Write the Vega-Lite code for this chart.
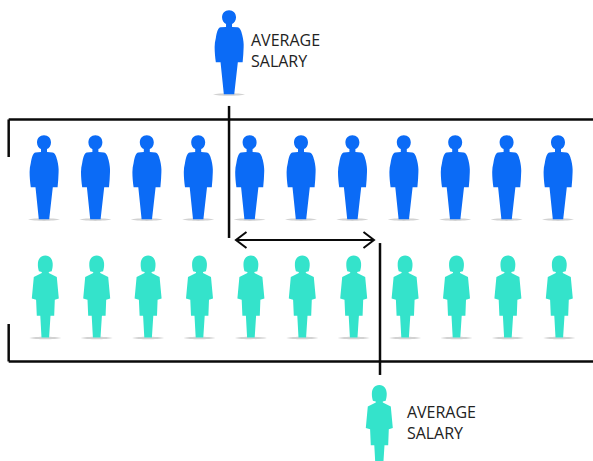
{"$schema":"https://vega.github.io/schema/vega-lite/v6.json","width":593,"height":461,"padding":0,"autosize":"none","background":"white","view":{"stroke":null},
"datasets":{
"people":[
{"gender":"man","seat":1,"level":1},{"gender":"man","seat":2,"level":1},{"gender":"man","seat":3,"level":1},{"gender":"man","seat":4,"level":1},{"gender":"man","seat":5,"level":1},{"gender":"man","seat":6,"level":1},{"gender":"man","seat":7,"level":1},{"gender":"man","seat":8,"level":1},{"gender":"man","seat":9,"level":1},{"gender":"man","seat":10,"level":1},{"gender":"man","seat":11,"level":1},
{"gender":"woman","seat":1,"level":2},{"gender":"woman","seat":2,"level":2},{"gender":"woman","seat":3,"level":2},{"gender":"woman","seat":4,"level":2},{"gender":"woman","seat":5,"level":2},{"gender":"woman","seat":6,"level":2},{"gender":"woman","seat":7,"level":2},{"gender":"woman","seat":8,"level":2},{"gender":"woman","seat":9,"level":2},{"gender":"woman","seat":10,"level":2},{"gender":"woman","seat":11,"level":2},
{"gender":"man","seat":4.6,"level":-0.055},{"gender":"woman","seat":7.498,"level":3.093}],
"lines":[
{"seat":0.313,"seat2":11.681,"level":0.506,"level2":0.506},
{"seat":0.313,"seat2":0.313,"level":0.506,"level2":0.823},
{"seat":0.313,"seat2":11.681,"level":2.548,"level2":2.548},
{"seat":0.313,"seat2":0.313,"level":2.232,"level2":2.548},
{"seat":4.6,"seat2":4.6,"level":0.392,"level2":1.506},
{"seat":7.537,"seat2":7.537,"level":1.549,"level2":2.662}],
"arrow":[{"seat":4.735,"seat2":7.42,"level":1.523,"level2":1.523}],
"labels":[
{"text":"AVERAGE","seat":5.027,"level":-0.157},{"text":"SALARY","seat":5.027,"level":0.021},
{"text":"AVERAGE","seat":8.06,"level":2.983},{"text":"SALARY","seat":8.06,"level":3.16}]},
"encoding":{
"x":{"field":"seat","type":"quantitative","scale":{"domain":[0.144,11.681],"range":[0,593],"nice":false,"zero":false},"axis":null},
"y":{"field":"level","type":"quantitative","scale":{"domain":[-0.502,3.388],"range":[0,461],"nice":false,"zero":false},"axis":null}},
"layer":[
{"data":{"name":"people"},"transform":[{"filter":"datum.gender==='man'"}],"mark":{"type":"point","shape":"M-16,41.6C-10,39.9 10,39.9 16,41.6C10,43.3 -10,43.3 -16,41.6Z","size":4,"filled":true,"opacity":1,"fill":"#d2d2d2","strokeWidth":0}},
{"data":{"name":"people"},"transform":[{"filter":"datum.gender==='woman'"}],"mark":{"type":"point","shape":"M-16,41.4C-10,39.7 10,39.7 16,41.4C10,43.1 -10,43.1 -16,41.4Z","size":4,"filled":true,"opacity":1,"fill":"#d2d2d2","strokeWidth":0,"xOffset":1.3}},
{"data":{"name":"people"},"transform":[{"filter":"datum.gender==='man'"}],"mark":{"type":"point","shape":"M0,-42.8C4.2,-42.8 7,-39.8 7,-35.6C7,-32.2 5.2,-30 3,-29L3,-26L8.5,-25.6C11,-25.3 12.3,-22 13.2,-18C14.4,-13 14.8,-9 14.6,-6C14.5,-1 14.1,4 13.6,9.3L8.8,9.3L5.2,41.3L-5.2,41.3L-8.5,9.3L-13.2,9.3C-13.9,4 -14.4,-1 -14.4,-6C-14.4,-9 -14,-12 -13.2,-15C-12.2,-21 -11,-25.3 -8.5,-25.6L-3,-26L-3,-29C-5.2,-30 -7,-32.2 -7,-35.6C-7,-39.8 -4.2,-42.8 0,-42.8Z","size":4,"filled":true,"opacity":1,"fill":"#0b6bf6","strokeWidth":0}},
{"data":{"name":"people"},"transform":[{"filter":"datum.gender==='woman'"}],"mark":{"type":"point","shape":"M0,-41C5,-41 7.2,-37 7.4,-33C7.6,-30 7,-27.5 6.4,-25.3L3.5,-24.6L3.5,-23.5L11.5,-19.5L13.5,2L9.5,3.3L8.9,19.3L5.2,19.3L3.8,41L-3.8,41L-5,19.3L-8.5,19.3L-9.2,3.3L-13.5,2L-11.5,-19.5L-3.5,-23.5L-3.5,-24.6L-6.4,-25.3C-7,-27.5 -7.6,-30 -7.4,-33C-7.2,-37 -5,-41 0,-41Z","size":4,"filled":true,"opacity":1,"fill":"#34e3cb","strokeWidth":0,"xOffset":1.3}},
{"data":{"name":"lines"},"mark":{"type":"rule","color":"#0a0a0a","strokeWidth":2.5},"encoding":{"x2":{"field":"seat2"},"y2":{"field":"level2"}}},
{"data":{"name":"arrow"},"mark":{"type":"rule","color":"#0a0a0a","strokeWidth":2},"encoding":{"x2":{"field":"seat2"},"y2":{"field":"level2"}}},
{"data":{"name":"arrow"},"mark":{"type":"point","shape":"M10.5,-8L0,0L10.5,8","size":4,"filled":false,"opacity":1,"stroke":"#0a0a0a","strokeWidth":2}},
{"data":{"name":"arrow"},"mark":{"type":"point","shape":"M-10.5,-8L0,0L-10.5,8","size":4,"filled":false,"opacity":1,"stroke":"#0a0a0a","strokeWidth":2},"encoding":{"x":{"field":"seat2","type":"quantitative"}}},
{"data":{"name":"labels"},"mark":{"type":"text","align":"left","baseline":"middle","font":"Open Sans","fontSize":16,"color":"#222222"},"encoding":{"text":{"field":"text"}}}
]}
